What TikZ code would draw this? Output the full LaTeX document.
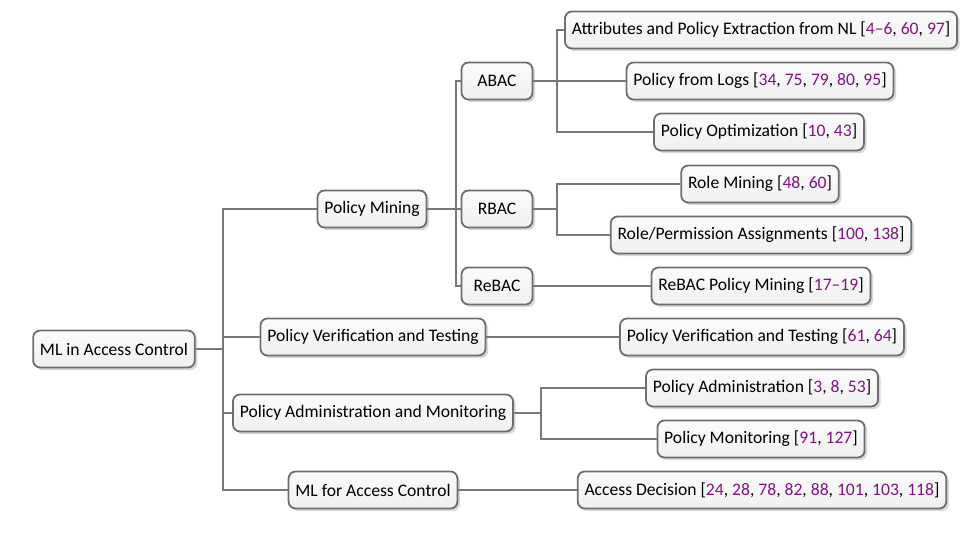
\documentclass[tikz,border=0pt]{standalone}
\usepackage{fontspec}
\setmainfont{Carlito}
\usetikzlibrary{shadows}
\definecolor{citecol}{RGB}{128,20,128}
\definecolor{linecol}{RGB}{120,120,120}
\definecolor{boxborder}{RGB}{110,110,110}
\newcommand{\cc}[1]{\textcolor{citecol}{#1}}
\tikzset{
  box/.style={draw=boxborder, line width=0.9pt, rounded corners=3.5pt,
    top color=gray!3, bottom color=gray!12,
    minimum height=18.5pt, inner xsep=3.4pt, inner ysep=2pt,
    font=\fontsize{8.8}{10.5}\selectfont,
    drop shadow={shadow xshift=1.3pt, shadow yshift=-1.3pt, fill=gray!60, opacity=0.5}},
  midbox/.style={box, minimum width=35.5pt},
  conn/.style={draw=linecol, line width=1pt}
}
\begin{document}
\begin{tikzpicture}[x=0.5pt,y=-0.5pt]
\useasboundingbox (0,0) rectangle (975,535);
% root
\node[box] (root) at (114,349) {ML in Access Control};
% level 1
\node[box] (pm) at (372,209) {Policy Mining};
\node[box] (pvt) at (373,337) {Policy Verification and Testing};
\node[box] (pam) at (373,413) {Policy Administration and Monitoring};
\node[box] (mlac) at (373,490) {ML for Access Control};
% level 2
\node[midbox] (abac) at (497,81) {ABAC};
\node[midbox] (rbac) at (497,209) {RBAC};
\node[midbox] (rebac) at (497,286) {ReBAC};
% leaves
\node[box] (l1) at (761,30) {Attributes and Policy Extraction from NL [\cc{4--6}, \cc{60}, \cc{97}]};
\node[box] (l2) at (760,81) {Policy from Logs [\cc{34}, \cc{75}, \cc{79}, \cc{80}, \cc{95}]};
\node[box] (l3) at (759,132) {Policy Optimization [\cc{10}, \cc{43}]};
\node[box] (l4) at (760,184) {Role Mining [\cc{48}, \cc{60}]};
\node[box] (l5) at (761,235) {Role/Permission Assignments [\cc{100}, \cc{138}]};
\node[box] (l6) at (761,286) {ReBAC Policy Mining [\cc{17--19}]};
\node[box] (l7) at (762,337) {Policy Verification and Testing [\cc{61}, \cc{64}]};
\node[box] (l8) at (762,388) {Policy Administration [\cc{3}, \cc{8}, \cc{53}]};
\node[box] (l9) at (761,439) {Policy Monitoring [\cc{91}, \cc{127}]};
\node[box] (l10) at (762,490) {Access Decision [\cc{24}, \cc{28}, \cc{78}, \cc{82}, \cc{88}, \cc{101}, \cc{103}, \cc{118}]};
% connectors
\foreach \t in {pm,pvt,pam,mlac}
  \draw[conn] (root.east) -- ++(27,0) |- (\t.west);
\foreach \t in {abac,rbac,rebac}
  \draw[conn] (pm.east) -- ++(29,0) |- (\t.west);
\foreach \t in {l1,l2,l3}
  \draw[conn] (abac.east) -- ++(24,0) |- (\t.west);
\foreach \t in {l4,l5}
  \draw[conn] (rbac.east) -- ++(24,0) |- (\t.west);
\draw[conn] (rebac.east) -- (l6.west);
\draw[conn] (pvt.east) -- (l7.west);
\foreach \t in {l8,l9}
  \draw[conn] (pam.east) -- ++(27,0) |- (\t.west);
\draw[conn] (mlac.east) -- (l10.west);
\end{tikzpicture}
\end{document}
